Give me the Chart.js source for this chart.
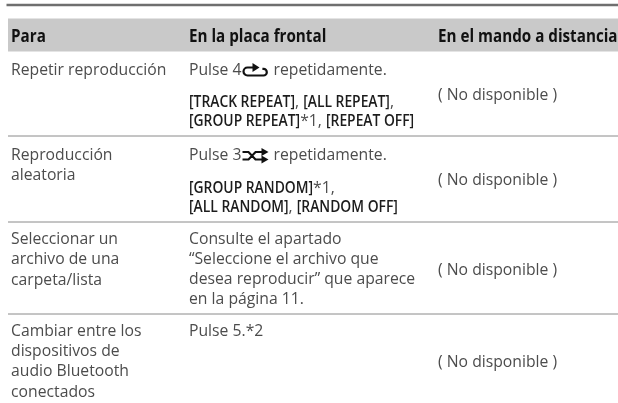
<!DOCTYPE html>
<html><head><meta charset="utf-8">
<style>html,body{margin:0;padding:0;background:#fff}canvas{display:block}</style>
<script src="https://cdn.jsdelivr.net/npm/chart.js@4"></script></head>
<body><canvas id="c" width="618" height="403"></canvas>
<script>
// Table content
const headers = ["Para", "En la placa frontal", "En el mando a distancia"];
const rowLabels = [
  ["Repetir reproducción"],
  ["Reproducción", "aleatoria"],
  ["Seleccionar un", "archivo de una", "carpeta/lista"],
  ["Cambiar entre los", "dispositivos de", "audio Bluetooth", "conectados"]
];
const frontPanel = [
  ["Pulse 4|repeat|repetidamente.", "[TRACK REPEAT], [ALL REPEAT],", "[GROUP REPEAT]*1, [REPEAT OFF]"],
  ["Pulse 3|shuffle|repetidamente.", "[GROUP RANDOM]*1,", "[ALL RANDOM], [RANDOM OFF]"],
  ["Consulte el apartado", "“Seleccione el archivo que", "desea reproducir” que aparece", "en la página 11."],
  ["Pulse 5.*2"]
];
const remote = ["( No disponible )", "( No disponible )", "( No disponible )", "( No disponible )"];

// Layout, in scale units
const colX = [11, 189, 438];
const headerBase = 42;
const labelBase = [[75], [160, 180], [244, 264, 285], [336, 356, 376, 397]];
const frontBase = [[75, 107, 126], [160, 193, 212], [244, 264, 284, 304], [336]];
const remoteBase = [100, 185, 275, 367];
const ruleY = [136, 222, 314];
const ruleStart = 8, tableEnd = 618;
const topRule = {y: 5, x0: 6.5, w: 2.6};
const band = {y0: 18.5, y1: 51.5};

const seg = (x0, x1, y) => [{x: x0, y}, {x: x1, y}];
const lineSet = (data, color, width) => ({data, borderColor: color, borderWidth: width, showLine: true, pointRadius: 0, fill: false, borderCapStyle: 'butt'});

const BODY = '16.4px "Open Sans"', BODY_X = 0.96;
const COND = '600 17px "Open Sans"', COND_X = 0.815;
const HEAD = '700 18px "Open Sans"', HEAD_X = 0.845;

function runs(ctx, text, x, y) {
  const parts = text.split(/(\[[^\]]*\]|\|repeat\||\|shuffle\|)/).filter(s => s);
  let px = x;
  for (const p of parts) {
    if (p === '|repeat|') { iconRepeat(ctx, px + 1, y - 5); px += 32; continue; }
    if (p === '|shuffle|') { iconShuffle(ctx, px + 1, y - 4); px += 32; continue; }
    const cond = p[0] === '[';
    ctx.font = cond ? COND : BODY;
    ctx.fillStyle = cond ? '#1c1c1c' : '#4c4c4c';
    const k = cond ? COND_X : BODY_X;
    ctx.save(); ctx.translate(px, y); ctx.scale(k, 1); ctx.fillText(p, 0, 0); ctx.restore();
    px += ctx.measureText(p).width * k;
  }
}
function iconRepeat(ctx, x, y) {
  ctx.save(); ctx.translate(x, y); ctx.strokeStyle = '#111'; ctx.fillStyle = '#111'; ctx.lineWidth = 2.2;
  ctx.beginPath(); ctx.moveTo(21, 0); ctx.arc(21, 2.2, 3.3, -Math.PI / 2, Math.PI / 2); ctx.lineTo(5, 5.5); ctx.arc(5, 1.5, 4, Math.PI / 2, -Math.PI / 2); ctx.lineTo(11, -2.5); ctx.stroke();
  ctx.beginPath(); ctx.moveTo(10, -7); ctx.lineTo(17, -2.5); ctx.lineTo(10, 2); ctx.fill();
  ctx.restore();
}
function iconShuffle(ctx, x, y) {
  ctx.save(); ctx.translate(x, y); ctx.strokeStyle = '#111'; ctx.fillStyle = '#111'; ctx.lineWidth = 2.2;
  ctx.beginPath(); ctx.moveTo(0, -4); ctx.lineTo(6, -4); ctx.lineTo(13, 3.5); ctx.lineTo(20, 3.5); ctx.moveTo(0, 3.5); ctx.lineTo(6, 3.5); ctx.lineTo(13, -4); ctx.lineTo(20, -4); ctx.stroke();
  ctx.beginPath(); ctx.moveTo(19, -8); ctx.lineTo(26, -4); ctx.lineTo(19, 0); ctx.fill();
  ctx.beginPath(); ctx.moveTo(19, -0.5); ctx.lineTo(26, 3.5); ctx.lineTo(19, 7.5); ctx.fill();
  ctx.restore();
}

const tableText = {
  id: 'tableText',
  afterDatasetsDraw(chart) {
    const ctx = chart.ctx, sx = chart.scales.x, sy = chart.scales.y;
    ctx.save(); ctx.textBaseline = 'alphabetic'; ctx.textAlign = 'left';
    headers.forEach((h, i) => {
      ctx.font = HEAD; ctx.fillStyle = '#111';
      ctx.save(); ctx.translate(sx.getPixelForValue(colX[i]), sy.getPixelForValue(headerBase)); ctx.scale(HEAD_X, 1); ctx.fillText(h, 0, 0); ctx.restore();
    });
    rowLabels.forEach((lines, r) => lines.forEach((t, i) =>
      runs(ctx, t, sx.getPixelForValue(colX[0]), sy.getPixelForValue(labelBase[r][i]))));
    frontPanel.forEach((lines, r) => lines.forEach((t, i) =>
      runs(ctx, t, sx.getPixelForValue(colX[1]), sy.getPixelForValue(frontBase[r][i]))));
    remote.forEach((t, r) => runs(ctx, t, sx.getPixelForValue(colX[2]), sy.getPixelForValue(remoteBase[r])));
    ctx.restore();
  }
};

new Chart(document.getElementById('c'), {
  type: 'scatter',
  data: {datasets: [
    lineSet(seg(ruleStart, tableEnd, (band.y0 + band.y1) / 2), '#c9c9c9', band.y1 - band.y0),
    lineSet(seg(topRule.x0, tableEnd, topRule.y), '#6f6f6f', topRule.w),
    ...ruleY.map(y => lineSet(seg(ruleStart, tableEnd, y), '#8a8a8a', 1))
  ]},
  options: {
    responsive: false, animation: false, events: [],
    layout: {padding: 0},
    plugins: {legend: {display: false}, tooltip: {enabled: false}},
    scales: {
      x: {type: 'linear', min: 0, max: 618, display: false},
      y: {type: 'linear', min: 0, max: 403, reverse: true, display: false}
    }
  },
  plugins: [tableText]
});
</script></body></html>
